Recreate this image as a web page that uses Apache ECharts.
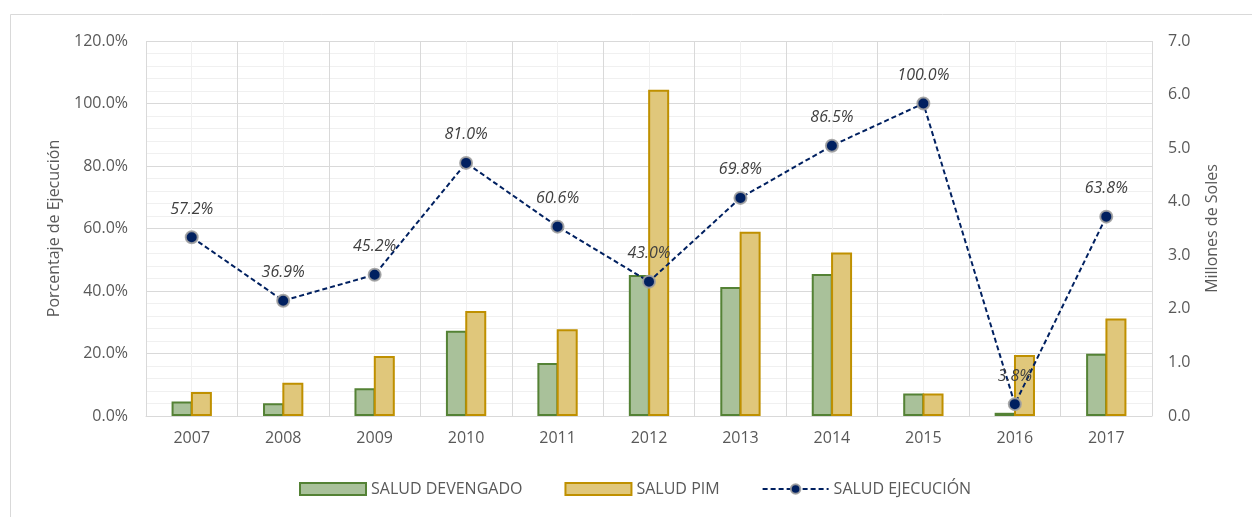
<!DOCTYPE html>
<html>
<head>
<meta charset="utf-8">
<title>Salud - Ejecución</title>
<script src="https://cdn.jsdelivr.net/npm/echarts@6/dist/echarts.min.js"></script>
<style>
  html, body { margin: 0; padding: 0; background: #fff; }
  #main { width: 1252px; height: 517px; }
</style>
</head>
<body>
<div id="main"></div>
<script>
// datos
var years = ['2007', '2008', '2009', '2010', '2011', '2012', '2013', '2014', '2015', '2016', '2017'];
var devengado = [0.27, 0.24, 0.52, 1.59, 0.99, 2.63, 2.41, 2.65, 0.42, 0.06, 1.16];   // millones de soles
var pim = [0.45, 0.62, 1.12, 1.96, 1.62, 6.09, 3.44, 3.05, 0.42, 1.14, 1.82];          // millones de soles
var ejecucion = [0.572, 0.369, 0.452, 0.810, 0.606, 0.430, 0.698, 0.865, 1.000, 0.038, 0.638];
var leftTicks = [0, 0.2, 0.4, 0.6, 0.8, 1.0, 1.2];
var rightTicks = [0, 1, 2, 3, 4, 5, 6, 7];

var font = 'Open Sans';
var grey = '#595959';

var chart = echarts.init(document.getElementById('main'));

var option = {
  backgroundColor: '#fff',
  textStyle: { fontFamily: font },
  graphic: [{
    type: 'rect',
    left: 8, top: 12,
    shape: { width: 1400, height: 700 },
    style: { fill: 'none', stroke: '#d9d9d9', lineWidth: 1 },
    silent: true, z: -10
  }],
  grid: { left: 146, right: 100, top: 41, bottom: 101 },
  legend: {
    bottom: 15,
    left: 294,
    itemWidth: 66,
    itemHeight: 12,
    itemGap: 42,
    textStyle: { color: grey, fontSize: 16, fontFamily: font },
    data: [
      { name: 'SALUD DEVENGADO', icon: 'rect' },
      { name: 'SALUD PIM', icon: 'rect' },
      'SALUD EJECUCIÓN'
    ]
  },
  xAxis: [{
    type: 'category',
    data: years,
    axisLine: { lineStyle: { color: '#d9d9d9' } },
    axisTick: { show: false },
    axisLabel: { color: grey, fontSize: 16, margin: 14 },
    splitLine: { show: false }
  }, {
    // lineas verticales: limites (oscuro) y centros (claro)
    type: 'value',
    min: 0, max: years.length * 2, interval: 1,
    axisLine: { show: false },
    axisTick: { show: false },
    axisLabel: { show: false },
    splitLine: { show: true, lineStyle: { color: ['#d9d9d9', '#f0f0f0'], width: 1 } }
  }],
  yAxis: [{
    type: 'value',
    min: leftTicks[0], max: leftTicks[leftTicks.length - 1], interval: 0.2,
    name: 'Porcentaje de Ejecución',
    nameLocation: 'middle',
    nameRotate: 90,
    nameGap: 84,
    nameTextStyle: { color: grey, fontSize: 16 },
    axisLine: { show: false },
    axisTick: { show: false },
    axisLabel: {
      color: grey, fontSize: 16, margin: 18,
      formatter: function (v) { return (v * 100).toFixed(1) + '%'; }
    },
    splitLine: { show: true, lineStyle: { color: '#d9d9d9' } },
    minorTick: { show: false, splitNumber: 5 },
    minorSplitLine: { show: true, lineStyle: { color: '#f0f0f0' } }
  }, {
    type: 'value',
    min: rightTicks[0], max: rightTicks[rightTicks.length - 1], interval: 1,
    name: 'Millones de Soles',
    nameLocation: 'middle',
    nameRotate: 90,
    nameGap: 52,
    nameTextStyle: { color: grey, fontSize: 16 },
    axisLine: { show: false },
    axisTick: { show: false },
    axisLabel: {
      color: grey, fontSize: 16, margin: 16,
      formatter: function (v) { return v.toFixed(1); }
    },
    splitLine: { show: false }
  }],
  series: [{
    name: 'SALUD DEVENGADO',
    type: 'bar',
    yAxisIndex: 1,
    barWidth: 21,
    barGap: '-8%',
    itemStyle: { color: '#a9c19a', borderColor: '#548235', borderWidth: 2 },
    data: devengado
  }, {
    name: 'SALUD PIM',
    type: 'bar',
    yAxisIndex: 1,
    barWidth: 21,
    barGap: '-8%',
    itemStyle: { color: '#e0c77b', borderColor: '#bf9000', borderWidth: 2 },
    data: pim
  }, {
    name: 'SALUD EJECUCIÓN',
    type: 'line',
    yAxisIndex: 0,
    symbol: 'circle',
    symbolSize: 12,
    z: 5,
    lineStyle: { color: '#002060', width: 2, type: [5, 3] },
    itemStyle: { color: '#002060', borderColor: 'rgba(160,160,160,0.9)', borderWidth: 2 },
    label: {
      show: true,
      position: 'top',
      distance: 13,
      color: '#404040',
      fontSize: 16,
      fontStyle: 'italic',
      formatter: function (p) { return (p.value * 100).toFixed(1) + '%'; }
    },
    data: ejecucion
  }]
};

chart.setOption(option);
</script>
</body>
</html>
